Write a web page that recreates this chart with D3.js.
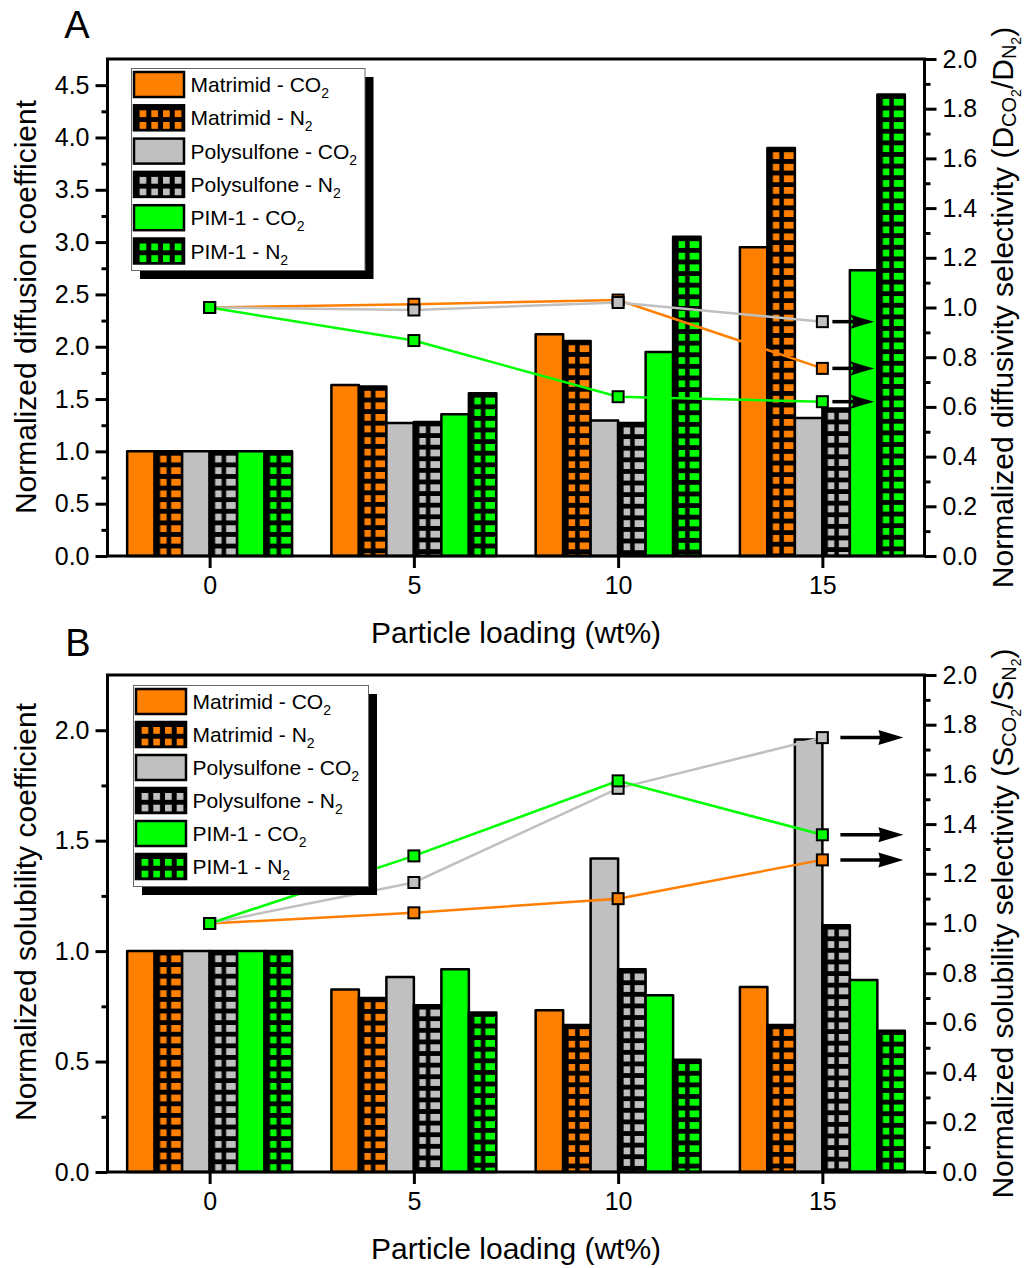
<!DOCTYPE html>
<html><head><meta charset="utf-8">
<script src="https://cdn.jsdelivr.net/npm/d3@7"></script>
<style>
body{margin:0;background:#fff}
svg text{font-family:"Liberation Sans",Arial,sans-serif;fill:#000}
</style>
</head><body>
<svg id="c" width="1026" height="1268"></svg>
<script>
// ---------------- DATA ----------------
const loadings = [0, 5, 10, 15];
const xTicks = [0, 5, 10, 15];
const seriesLabels = ["Matrimid - CO", "Matrimid - N", "Polysulfone - CO", "Polysulfone - N", "PIM-1 - CO", "PIM-1 - N"];
const seriesColors = ["#FF8000", "#FF8000", "#C0C0C0", "#C0C0C0", "#00FF00", "#00FF00"];
const seriesHatched = [false, true, false, true, false, true];
const polymerColors = ["#FF8000", "#C0C0C0", "#00FF00"];

// Panel A: normalized diffusion coefficient
const diffMatrimidCO2 = [1.0, 1.635, 2.12, 2.95];
const diffMatrimidN2  = [1.0, 1.62, 2.055, 3.90];
const diffPsfCO2      = [1.0, 1.27, 1.295, 1.32];
const diffPsfN2       = [1.0, 1.28, 1.27, 1.41];
const diffPimCO2      = [1.0, 1.355, 1.95, 2.73];
const diffPimN2       = [1.0, 1.555, 3.05, 4.41];
// Panel A: normalized diffusivity selectivity (right axis)
const diffSelMatrimid = [1.0, 1.013, 1.03, 0.755];
const diffSelPsf      = [1.0, 0.99, 1.02, 0.943];
const diffSelPim      = [1.0, 0.867, 0.641, 0.621];

// Panel B: normalized solubility coefficient
const solMatrimidCO2 = [1.0, 0.826, 0.732, 0.838];
const solMatrimidN2  = [1.0, 0.788, 0.666, 0.666];
const solPsfCO2      = [1.0, 0.883, 1.419, 1.958];
const solPsfN2       = [1.0, 0.755, 0.918, 1.117];
const solPimCO2      = [1.0, 0.918, 0.80, 0.869];
const solPimN2       = [1.0, 0.722, 0.508, 0.64];
// Panel B: normalized solubility selectivity (right axis)
const solSelMatrimid = [1.0, 1.043, 1.10, 1.256];
const solSelPsf      = [1.0, 1.165, 1.544, 1.748];
const solSelPim      = [1.0, 1.272, 1.574, 1.357];

// Tick values
const diffTicks = [0, 0.5, 1, 1.5, 2, 2.5, 3, 3.5, 4, 4.5];
const diffMinorTicks = [0.25, 0.75, 1.25, 1.75, 2.25, 2.75, 3.25, 3.75, 4.25];
const solTicks = [0, 0.5, 1, 1.5, 2];
const solMinorTicks = [0.25, 0.75, 1.25, 1.75];
const selTicks = [0, 0.2, 0.4, 0.6, 0.8, 1.0, 1.2, 1.4, 1.6, 1.8, 2.0];
const selMinorTicks = [0.1, 0.3, 0.5, 0.7, 0.9, 1.1, 1.3, 1.5, 1.7, 1.9];

// ---------------- DRAWING ----------------
const svg = d3.select("#c");
const defs = svg.append("defs");
const FONT_TICK = 25, FONT_TITLE = 30, FONT_LEG = 21;

const x = d3.scaleLinear().domain([-2.5, 17.5]).range([107.5, 924.5]);
const barW = x(0.673) - x(0);

let patId = 0;
function hatchPattern(color, px, py, w, h, colW1, colX1, colW2, colX2) {
  const id = "hp" + (patId++);
  const p = defs.append("pattern").attr("id", id)
    .attr("patternUnits", "userSpaceOnUse")
    .attr("x", px).attr("y", py).attr("width", w).attr("height", h);
  p.append("rect").attr("width", w).attr("height", h).attr("fill", "#000");
  p.append("rect").attr("x", colX1).attr("y", 0).attr("width", colW1).attr("height", 6.8).attr("fill", color);
  if (colW2) p.append("rect").attr("x", colX2).attr("y", 0).attr("width", colW2).attr("height", 6.8).attr("fill", color);
  return "url(#" + id + ")";
}

function drawPanel(cfg) {
  const g = svg.append("g");
  const yL = d3.scaleLinear().domain(cfg.leftDomain).range([cfg.bottom, cfg.top]);
  const yR = d3.scaleLinear().domain([0, 2]).range([cfg.bottom, cfg.top]);

  // bars
  cfg.bars.forEach((vals, si) => {
    vals.forEach((v, li) => {
      const bx = x(loadings[li]) + (si - 3) * barW;
      const by = yL(v);
      let fill = seriesColors[si];
      if (seriesHatched[si]) {
        fill = hatchPattern(seriesColors[si], bx, by + 4.3, barW, 11.6, 6.5, 5.5, barW - 16.5 - 1, 16.5);
      }
      g.append("rect").attr("x", bx).attr("y", by)
        .attr("width", barW).attr("height", yL(0) - by)
        .attr("fill", fill).attr("stroke", "#000").attr("stroke-width", 2.5)
        .attr("stroke-linejoin", "round");
    });
  });

  // axes
  const xAxis = d3.axisBottom(x).tickValues(xTicks).tickSize(12).tickPadding(8).tickFormat(d3.format("d"));
  const gx = g.append("g").attr("transform", `translate(0,${cfg.bottom})`).call(xAxis);
  const yAxis = d3.axisLeft(yL).tickValues(cfg.leftTicks).tickSize(12).tickPadding(6).tickFormat(d3.format(".1f"));
  const gy = g.append("g").attr("transform", `translate(${x.range()[0]},0)`).call(yAxis);
  const gym = g.append("g").attr("transform", `translate(${x.range()[0]},0)`).call(d3.axisLeft(yL).tickValues(cfg.leftMinor).tickSize(6).tickFormat(""));
  const rAxis = d3.axisRight(yR).tickValues(selTicks).tickSize(12).tickPadding(6).tickFormat(d3.format(".1f"));
  const gr = g.append("g").attr("transform", `translate(${x.range()[1]},0)`).call(rAxis);
  const grm = g.append("g").attr("transform", `translate(${x.range()[1]},0)`).call(d3.axisRight(yR).tickValues(selMinorTicks).tickSize(6).tickFormat(""));
  [gx, gy, gym, gr, grm].forEach(a => {
    a.selectAll("path.domain").attr("stroke", "#000").attr("stroke-width", 3);
    a.selectAll(".tick line").attr("stroke", "#000").attr("stroke-width", 3);
    a.selectAll("text").attr("font-size", FONT_TICK).attr("font-family", "Liberation Sans, Arial, sans-serif").attr("fill", "#000");
  });
  [gym, grm, gx, gy, gr].forEach(a => a.select("path.domain").remove());
  g.append("line").attr("x1", x.range()[0] - 1.5).attr("x2", x.range()[1] + 1.5).attr("y1", cfg.bottom).attr("y2", cfg.bottom).attr("stroke", "#000").attr("stroke-width", 3);
  g.append("line").attr("x1", x.range()[0] - 1.5).attr("x2", x.range()[1] + 1.5).attr("y1", cfg.top).attr("y2", cfg.top).attr("stroke", "#000").attr("stroke-width", 3);
  g.append("line").attr("x1", x.range()[0]).attr("x2", x.range()[0]).attr("y1", cfg.top).attr("y2", cfg.bottom).attr("stroke", "#000").attr("stroke-width", 3);
  g.append("line").attr("x1", x.range()[1]).attr("x2", x.range()[1]).attr("y1", cfg.top).attr("y2", cfg.bottom).attr("stroke", "#000").attr("stroke-width", 3);

  // selectivity lines
  const line = d3.line().x((d, i) => x(loadings[i])).y(d => yR(d));
  cfg.sel.forEach((vals, pi) => {
    g.append("path").datum(vals).attr("d", line).attr("fill", "none")
      .attr("stroke", polymerColors[pi]).attr("stroke-width", 2.5);
  });
  cfg.sel.forEach((vals, pi) => {
    g.selectAll(null).data(vals).enter().append("rect")
      .attr("x", (d, i) => x(loadings[i]) - 5.5).attr("y", d => yR(d) - 5.5)
      .attr("width", 11).attr("height", 11)
      .attr("fill", polymerColors[pi]).attr("stroke", "#000").attr("stroke-width", 2);
  });

  // arrows pointing to right axis
  const xe = x(loadings[3]);
  cfg.sel.forEach(vals => {
    const yy = yR(vals[3]);
    const x1 = xe + cfg.arrow.start, x2 = xe + cfg.arrow.end;
    g.append("line").attr("x1", x1).attr("x2", x2 - 18).attr("y1", yy).attr("y2", yy)
      .attr("stroke", "#000").attr("stroke-width", 3.5);
    const hl = 25, hh = 7.5;
    const d = cfg.arrow.notched
      ? `M${x2},${yy} Q${x2 - 12},${yy - 3} ${x2 - hl},${yy - hh} Q${x2 - 17},${yy} ${x2 - hl},${yy + hh} Q${x2 - 12},${yy + 3} ${x2},${yy} Z`
      : `M${x2},${yy} L${x2 - hl},${yy - hh} Q${x2 - hl + 3},${yy} ${x2 - hl},${yy + hh} Z`;
    g.append("path").attr("d", d).attr("fill", "#000");
  });

  // legend
  const L = cfg.legend;
  g.append("rect").attr("x", L.x + 8.5).attr("y", L.y + 8.5).attr("width", L.w).attr("height", L.h).attr("fill", "#000");
  g.append("rect").attr("x", L.x).attr("y", L.y).attr("width", L.w).attr("height", L.h)
    .attr("fill", "#fff").attr("stroke", "#666").attr("stroke-width", 1);
  seriesLabels.forEach((lab, i) => {
    const sx = L.x + 2.5, sy = L.y + 3.5 + i * L.step;
    let fill = seriesColors[i];
    if (seriesHatched[i]) fill = hatchPattern(seriesColors[i], sx + 5.6, sy + 5, 11.7, 11.7, 6.7, 0, 0, 0);
    g.append("rect").attr("x", sx).attr("y", sy).attr("width", 50).attr("height", 25)
      .attr("fill", fill).attr("stroke", "#000").attr("stroke-width", 2.5);
    const t = g.append("text").attr("x", L.x + 59).attr("y", sy + 20).attr("font-size", FONT_LEG);
    t.append("tspan").text(lab);
    t.append("tspan").attr("font-size", 14).attr("dy", 6).text("2");
  });

  // axis titles
  g.append("text").attr("x", (x.range()[0] + x.range()[1]) / 2).attr("y", cfg.bottom + 87)
    .attr("text-anchor", "middle").attr("font-size", FONT_TITLE).text("Particle loading (wt%)");
  g.append("text").attr("transform", `translate(36,${cfg.leftTitleY}) rotate(-90)`)
    .attr("text-anchor", "middle").attr("font-size", FONT_TITLE).text(cfg.leftTitle);
  const rt = g.append("text").attr("transform", `translate(1013,${(cfg.top + cfg.bottom) / 2}) rotate(-90)`)
    .attr("text-anchor", "middle").attr("font-size", FONT_TITLE);
  rt.append("tspan").text(cfg.rightTitle + " (" + cfg.sym);
  rt.append("tspan").attr("font-size", 20).attr("dy", 3).text("CO");
  rt.append("tspan").attr("font-size", 14).attr("dy", 5).text("2");
  rt.append("tspan").attr("font-size", FONT_TITLE).attr("dy", -8).text("/" + cfg.sym);
  rt.append("tspan").attr("font-size", 20).attr("dy", 3).text("N");
  rt.append("tspan").attr("font-size", 14).attr("dy", 5).text("2");
  rt.append("tspan").attr("font-size", FONT_TITLE).attr("dy", -8).text(")");

  // panel letter
  g.append("text").attr("x", cfg.letterX).attr("y", cfg.letterY).attr("text-anchor", "middle")
    .attr("font-size", 38).text(cfg.letter);
}

drawPanel({
  top: 59, bottom: 556, leftDomain: [0, 4.75], leftTicks: diffTicks, leftMinor: diffMinorTicks,
  bars: [diffMatrimidCO2, diffMatrimidN2, diffPsfCO2, diffPsfN2, diffPimCO2, diffPimN2],
  sel: [diffSelMatrimid, diffSelPsf, diffSelPim],
  arrow: { start: 10, end: 52, notched: true },
  legend: { x: 131.5, y: 68.5, w: 233.5, h: 202, step: 33.3 },
  leftTitle: "Normalized diffusion coefficient", leftTitleY: 307,
  rightTitle: "Normalized diffusivity selectivity", sym: "D",
  letter: "A", letterX: 77, letterY: 38
});
drawPanel({
  top: 675, bottom: 1172, leftDomain: [0, 2.25], leftTicks: solTicks, leftMinor: solMinorTicks,
  bars: [solMatrimidCO2, solMatrimidN2, solPsfCO2, solPsfN2, solPimCO2, solPimN2],
  sel: [solSelMatrimid, solSelPsf, solSelPim],
  arrow: { start: 18, end: 81, notched: false },
  legend: { x: 133.5, y: 685.5, w: 235, h: 201, step: 33 },
  leftTitle: "Normalized solubility coefficient", leftTitleY: 912,
  rightTitle: "Normalized solubility selectivity", sym: "S",
  letter: "B", letterX: 78, letterY: 656
});
</script>
</body></html>
